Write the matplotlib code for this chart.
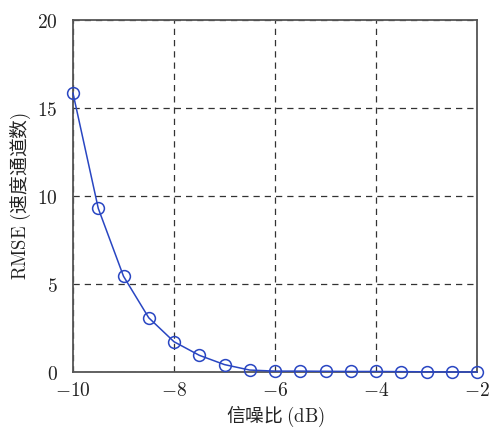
import matplotlib
matplotlib.use("Agg")
import matplotlib.pyplot as plt
import numpy as np
from matplotlib.ticker import FuncFormatter

plt.rcParams['font.family'] = ['Noto Sans CJK SC', 'DejaVu Sans']
plt.rcParams['mathtext.fontset'] = 'cm'

# --- data ---
snr_db = [-10, -9.5, -9, -8.5, -8, -7.5, -7, -6.5, -6, -5.5, -5, -4.5, -4, -3.5, -3, -2.5, -2]
rmse = [15.84, 9.30, 5.44, 3.08, 1.72, 0.95, 0.42, 0.11, 0.05, 0.05, 0.04, 0.03, 0.03, 0.02, 0.01, 0.0, 0.0]
x_ticks = [-10, -8, -6, -4, -2]
y_ticks = [0, 5, 10, 15, 20]

fig = plt.figure(figsize=(4.9, 4.34), dpi=100)
ax = fig.add_axes([73 / 490, 62 / 434, 404 / 490, 352 / 434])

ax.plot(snr_db, rmse, color='#2946c2', linewidth=1.1, marker='o',
        markersize=8.5, markerfacecolor='none', markeredgecolor='#2946c2',
        markeredgewidth=1.1, clip_on=False, zorder=5)

ax.set_xlim(-10, -2)
ax.set_ylim(0, 20)
ax.set_xticks(x_ticks)
ax.set_yticks(y_ticks)
ax.xaxis.set_major_formatter(FuncFormatter(lambda v, p: r"$%d$" % v))
ax.yaxis.set_major_formatter(FuncFormatter(lambda v, p: r"$%d$" % v))
ax.tick_params(axis='x', length=0, labelsize=14, pad=6, colors='#222222')
ax.tick_params(axis='y', length=0, labelsize=14, pad=11, colors='#222222')

ax.grid(True, color='#333333', linestyle=(0, (5, 4)), linewidth=0.9)
for s in ax.spines.values():
    s.set_color('#555555')
    s.set_linewidth(1.3)

ax.set_xlabel(r"信噪比 $(\mathrm{dB})$", fontsize=13.5, color='#222222', labelpad=2)
ax.set_ylabel(r"$\mathrm{RMSE}\ ($速度通道数$)$", fontsize=13.5, color='#222222', labelpad=3)

fig.savefig("out.png", dpi=100, facecolor='white')
